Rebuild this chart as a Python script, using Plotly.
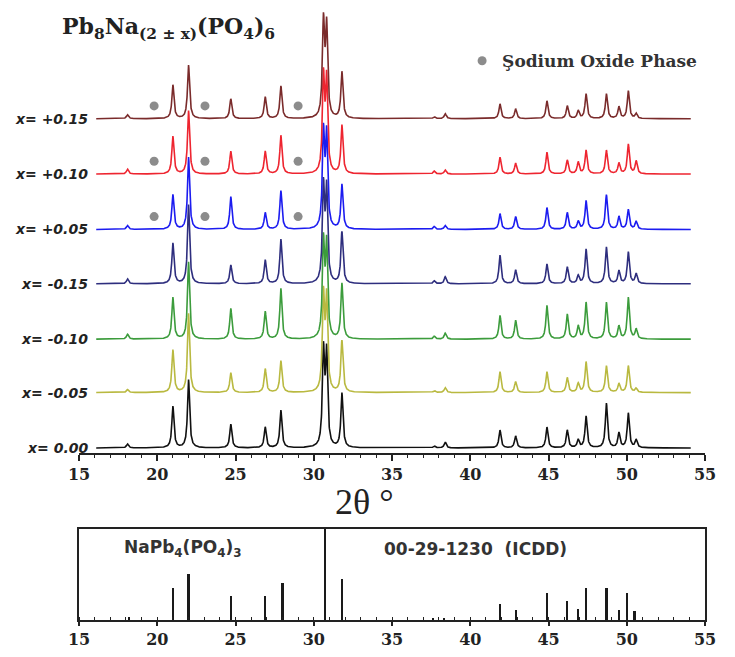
import numpy as np
import plotly.graph_objects as go

# ---------------- data ----------------
SAMPLES = ["x= 0.00", "x= -0.05", "x= -0.10", "x= -0.15", "x= +0.05", "x= +0.10", "x= +0.15"]
COLORS = ["#111111", "#b9b940", "#3c9c3c", "#2e2e7e", "#1c1cf0", "#ee2530", "#7a2b2b"]
OFFSETS = [0, 56, 110, 166, 221, 277, 333]

# peak positions (2theta, deg)
PEAK_POS = [18.1, 21.0, 22.0, 24.7, 26.9, 27.9, 30.62, 30.82, 31.8, 37.7, 38.4,
            41.9, 42.9, 44.9, 46.2, 46.9, 47.4, 48.7, 49.5, 50.1, 50.6]
# peak heights per sample (a.u.)
H_000 = [4, 42, 69, 24, 21, 38, 95, 92, 55, 2, 6, 18, 12, 21, 18, 8, 32, 45, 15, 35, 8]
H_M005 = [3, 43, 80, 20, 24, 32, 95, 92, 52, 2, 5, 21, 11, 21, 15, 9, 31, 27, 9, 27, 4]
H_M010 = [5, 42, 78, 31, 28, 51, 95, 92, 56, 3, 6, 24, 19, 34, 25, 13, 37, 37, 13, 42, 10]
H_M015 = [5, 41, 80, 19, 24, 45, 95, 92, 52, 3, 7, 29, 14, 20, 17, 8, 35, 37, 13, 32, 10]
H_P005 = [4, 35, 73, 33, 17, 39, 95, 92, 45, 3, 4, 16, 13, 22, 17, 8, 29, 35, 13, 20, 8]
H_P010 = [5, 38, 64, 23, 23, 39, 95, 92, 49, 3, 4, 17, 11, 22, 14, 12, 24, 24, 11, 30, 13]
H_P015 = [4, 34, 54, 20, 22, 33, 95, 90, 47, 2, 5, 15, 10, 18, 13, 8, 25, 25, 12, 28, 5]
HEIGHTS = [H_000, H_M005, H_M010, H_M015, H_P005, H_P010, H_P015]

# sodium oxide phase markers (2theta) and level above baseline, for x = +0.05, +0.10, +0.15
OXIDE_POS = [19.8, 23.05, 29.0]
OXIDE_LEVEL = 13
OXIDE_SAMPLES = [4, 5, 6]

# reference pattern NaPb4(PO4)3, ICDD 00-29-1230 (relative intensity %)
REF_POS = [18.2, 21.0, 22.0, 24.7, 26.9, 28.0, 30.7, 31.8, 37.6, 38.3,
           41.9, 42.9, 44.9, 46.2, 46.9, 47.4, 48.7, 49.5, 50.0, 50.5]
REF_INT = [3, 35, 50, 26, 26, 41, 100, 45, 2, 2,
           18, 11, 30, 21, 12, 35, 35, 11, 30, 10]

X_TICKS = [15, 20, 25, 30, 35, 40, 45, 50, 55]

# ---------------- figure ----------------
two_theta = np.arange(16.1, 54.1, 0.01)
HWHM = 0.08

fig = go.Figure()
for name, col, off, hts in zip(SAMPLES, COLORS, OFFSETS, HEIGHTS):
    y = np.full_like(two_theta, float(off))
    for p, h in zip(PEAK_POS, hts):
        y += h / (1.0 + ((two_theta - p) / HWHM) ** 2)
    fig.add_trace(go.Scatter(x=two_theta, y=y, mode="lines",
                             line=dict(color=col, width=1.6),
                             showlegend=False, xaxis="x", yaxis="y", hoverinfo="skip"))

for idx in OXIDE_SAMPLES:
    fig.add_trace(go.Scatter(x=OXIDE_POS, y=[OFFSETS[idx] + OXIDE_LEVEL] * len(OXIDE_POS),
                             mode="markers", marker=dict(color="#8c8c8c", size=9),
                             showlegend=False, xaxis="x", yaxis="y"))

# legend entry
fig.add_trace(go.Scatter(x=[None], y=[None], mode="markers",
                         marker=dict(color="#8c8c8c", size=9),
                         name="Şodium Oxide Phase", showlegend=True))

# reference sticks
fig.add_trace(go.Bar(x=REF_POS, y=REF_INT, width=0.14, marker=dict(color="#1a1a1a", line=dict(width=0)),
                     showlegend=False, xaxis="x2", yaxis="y2"))

serif_tick = dict(family="DejaVu Serif", size=16, color="#222", weight="bold")

annotations = []
for name, off in zip(SAMPLES, OFFSETS):
    annotations.append(dict(x=0.017, xref="paper", y=off, yref="y", text="<b><i>" + name + "</i></b>",
                            showarrow=False, xanchor="right", yanchor="middle",
                            font=dict(family="DejaVu Sans", size=14, color="#222")))
annotations.append(dict(x=-0.030, xref="paper", y=0.968, yref="paper",
                        text="<b>Pb<sub>8</sub>Na<sub>(2 ± x)</sub>(PO<sub>4</sub>)<sub>6</sub></b>",
                        showarrow=False, xanchor="left", yanchor="middle",
                        font=dict(family="DejaVu Serif", size=22, color="#222")))
annotations.append(dict(x=31.2, xref="x", y=0.192, yref="paper", text="2θ °",
                        showarrow=False, xanchor="left", yanchor="middle",
                        font=dict(family="Liberation Serif", size=36, color="#222")))
annotations.append(dict(x=0.068, xref="paper", y=0.1163, yref="paper",
                        text="<b>NaPb<sub>4</sub>(PO<sub>4</sub>)<sub>3</sub></b>",
                        showarrow=False, xanchor="left", yanchor="middle",
                        font=dict(family="DejaVu Sans", size=17, color="#333")))
annotations.append(dict(x=0.484, xref="paper", y=0.1163, yref="paper",
                        text="<b>00-29-1230  (ICDD)</b>",
                        showarrow=False, xanchor="left", yanchor="middle",
                        font=dict(family="DejaVu Sans", size=17, color="#333")))

fig.update_layout(
    width=719, height=641,
    margin=dict(l=71, r=22, t=0, b=22),
    paper_bgcolor="white", plot_bgcolor="white",
    showlegend=True,
    legend=dict(x=0.612, y=0.913, xanchor="left", yanchor="middle",
                bgcolor="rgba(0,0,0,0)", borderwidth=0,
                font=dict(family="DejaVu Serif", size=17, color="#333", weight="bold")),
    xaxis=dict(domain=[0, 1], range=[15, 55], anchor="y",
               showline=True, linecolor="#222", linewidth=2,
               tickvals=X_TICKS, ticks="outside", ticklen=6, tickwidth=2, tickcolor="#222",
               minor=dict(dtick=1, ticks="outside", ticklen=3, tickwidth=1.2, tickcolor="#222"),
               showgrid=False, zeroline=False, tickfont=serif_tick),
    yaxis=dict(domain=[0.2730, 1.0], range=[-5, 445], visible=False),
    xaxis2=dict(domain=[0, 1], range=[15, 55], anchor="y2",
                showline=True, linecolor="#222", linewidth=1.6, mirror=True,
                tickvals=X_TICKS, ticks="outside", ticklen=4, tickwidth=2, tickcolor="#222",
                minor=dict(dtick=1, ticks="inside", ticklen=3, tickwidth=1.2, tickcolor="#222"),
                showgrid=False, zeroline=False, tickfont=serif_tick),
    yaxis2=dict(domain=[0, 0.1486], range=[0, 100], anchor="x2",
                showline=True, linecolor="#222", linewidth=1.6, mirror=True,
                showticklabels=False, ticks="", showgrid=False, zeroline=False),
    annotations=annotations,
    bargap=0,
)

fig.write_html("out.html")
